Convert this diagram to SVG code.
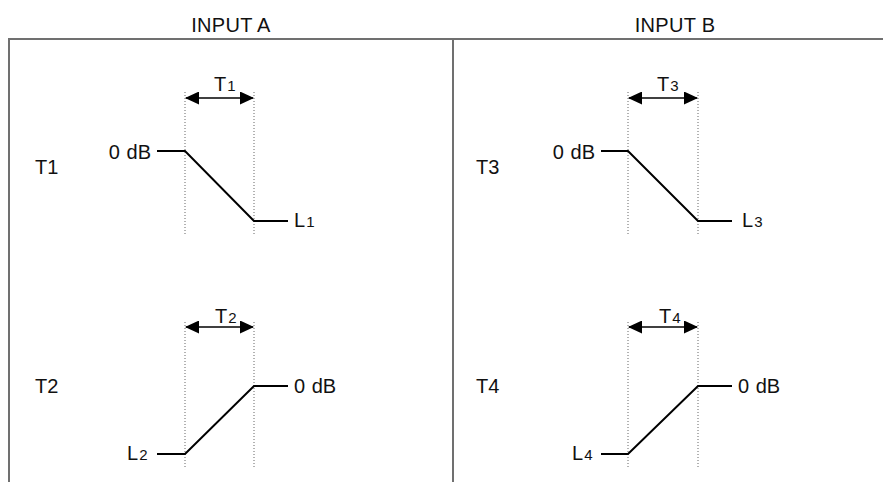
<svg xmlns="http://www.w3.org/2000/svg" width="883" height="482" viewBox="0 0 883 482">
<style>
.t{font-family:"Liberation Sans",Arial,sans-serif;font-size:20px;fill:#111}
.h{font-size:20px;letter-spacing:0.3px}
.s{font-size:15px}
.frame{stroke:#707070;stroke-width:2;fill:none}
.dot{stroke:#666;stroke-width:1;stroke-dasharray:1 2;fill:none}
.curve{stroke:#000;stroke-width:2;fill:none}
.dim{stroke:#000;stroke-width:1.5;fill:none}
.head{fill:#000}
</style>
<defs>
<marker id="ah" markerWidth="14" markerHeight="13" refX="13" refY="6.5" orient="auto-start-reverse" markerUnits="userSpaceOnUse">
<path d="M0,0 L14,6.5 L0,13 Z" class="head"/>
</marker>
</defs>
<rect width="883" height="482" fill="#fff"/>
<g id="frame">
<path class="frame" d="M9,482 V39 H883 M453,39 V482"/>
<text class="t h" x="231" y="32" text-anchor="middle">INPUT A</text>
<text class="t h" x="675" y="32" text-anchor="middle">INPUT B</text>
</g>
<g id="connectors">
<path class="dot" d="M185,92 V235 M254,92 V235"/>
<path class="dot" d="M185,322 V467 M254,322 V467"/>
<path class="dot" d="M628,92 V235 M698,92 V235"/>
<path class="dot" d="M628,322 V467 M698,322 V467"/>
<line class="dim" x1="186" y1="98" x2="253" y2="98" marker-start="url(#ah)" marker-end="url(#ah)"/>
<line class="dim" x1="186" y1="327" x2="253" y2="327" marker-start="url(#ah)" marker-end="url(#ah)"/>
<line class="dim" x1="629" y1="98" x2="697" y2="98" marker-start="url(#ah)" marker-end="url(#ah)"/>
<line class="dim" x1="629" y1="327" x2="697" y2="327" marker-start="url(#ah)" marker-end="url(#ah)"/>
<polyline class="curve" points="157,151 185,151 254,221 288,221"/>
<polyline class="curve" points="157,454 185,454 254,386 288,386"/>
<polyline class="curve" points="601,151 628,151 698,221 732,221"/>
<polyline class="curve" points="601,454 628,454 698,386 732,386"/>
</g>
<g id="T1">
<text class="t" x="35" y="174">T1</text>
<text class="t" x="214" y="91">T<tspan class="s" dx="1">1</tspan></text>
<text class="t" x="151" y="159" text-anchor="end" word-spacing="1">0 dB</text>
<text class="t" x="294" y="227">L<tspan class="s" dx="1">1</tspan></text>
</g>
<g id="T2">
<text class="t" x="35" y="393">T2</text>
<text class="t" x="215" y="323">T<tspan class="s" dx="1">2</tspan></text>
<text class="t" x="294" y="393" word-spacing="1">0 dB</text>
<text class="t" x="127" y="460">L<tspan class="s" dx="1">2</tspan></text>
</g>
<g id="T3">
<text class="t" x="476" y="174">T3</text>
<text class="t" x="657" y="91">T<tspan class="s" dx="1">3</tspan></text>
<text class="t" x="595" y="159" text-anchor="end" word-spacing="1">0 dB</text>
<text class="t" x="742" y="227">L<tspan class="s" dx="1">3</tspan></text>
</g>
<g id="T4">
<text class="t" x="476" y="393">T4</text>
<text class="t" x="659" y="323">T<tspan class="s" dx="1">4</tspan></text>
<text class="t" x="738" y="393" word-spacing="1">0 dB</text>
<text class="t" x="572" y="460">L<tspan class="s" dx="1">4</tspan></text>
</g>
</svg>
